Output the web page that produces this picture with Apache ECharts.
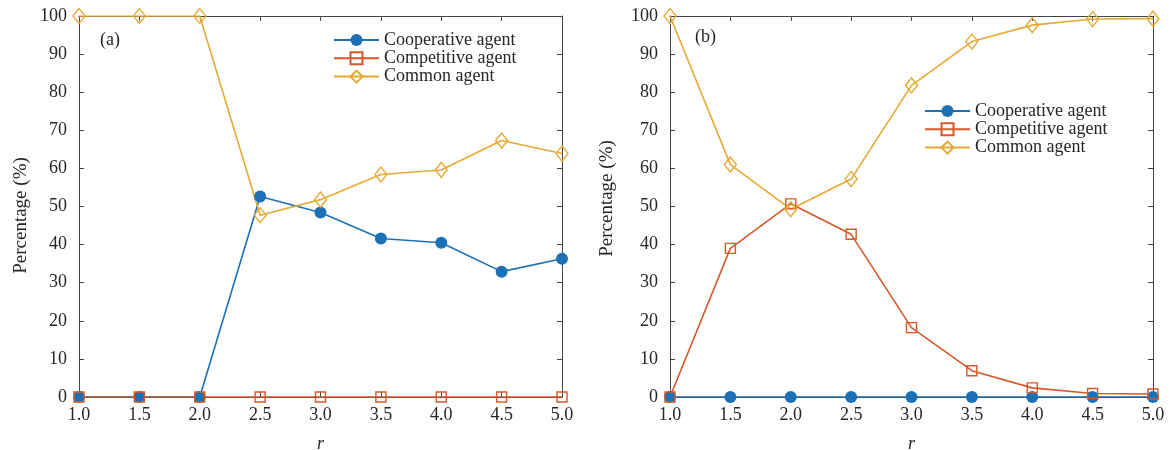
<!DOCTYPE html>
<html><head><meta charset="utf-8">
<script src="https://cdn.jsdelivr.net/npm/echarts@6/dist/echarts.min.js"></script>
<style>html,body{margin:0;padding:0;background:#fff}#c{width:1171px;height:450px}</style>
</head><body><div id="c"></div>
<script>
const r = [1.0, 1.5, 2.0, 2.5, 3.0, 3.5, 4.0, 4.5, 5.0];
const xTicks = ['1.0','1.5','2.0','2.5','3.0','3.5','4.0','4.5','5.0'];
const names = ['Cooperative agent', 'Competitive agent', 'Common agent'];
const coopA = [0, 0, 0, 52.6, 48.4, 41.6, 40.5, 32.9, 36.3];
const compA = [0, 0, 0, 0, 0, 0, 0, 0, 0];
const commA = [100, 100, 100, 47.7, 51.8, 58.4, 59.6, 67.3, 63.9];
const coopB = [0, 0, 0, 0, 0, 0, 0, 0, 0];
const compB = [0, 39.0, 50.7, 42.7, 18.2, 6.9, 2.4, 0.9, 0.8];
const commB = [100, 61.0, 49.3, 57.2, 81.8, 93.3, 97.6, 99.2, 99.3];

const FONT = '"Liberation Serif","Times New Roman",serif';
const TXT = '#262626';
const AX = '#444444';
const colors = ['#1B70B6', '#D7582A', '#E6A935'];
const pairs = v => v.map((y, i) => [r[i], y]);

function xAxes(gi) {
  return [
    {gridIndex: gi, type: 'value', min: 1, max: 5, interval: 0.5, position: 'bottom',
     name: 'r', nameLocation: 'middle', nameGap: 38,
     nameTextStyle: {fontFamily: FONT, fontSize: 18, fontStyle: 'italic', color: TXT},
     axisLine: {show: true, onZero: false, lineStyle: {color: AX, width: 1}},
     axisTick: {show: true, inside: true, length: 5, lineStyle: {color: AX}},
     axisLabel: {fontFamily: FONT, fontSize: 18, color: TXT, margin: 9,
       formatter: v => xTicks[Math.round((v - 1) / 0.5)]},
     splitLine: {show: false}},
    {gridIndex: gi, type: 'value', min: 1, max: 5, interval: 0.5, position: 'top',
     axisLine: {show: true, onZero: false, lineStyle: {color: AX, width: 1}},
     axisTick: {show: true, inside: true, length: 5, lineStyle: {color: AX}},
     axisLabel: {show: false}, splitLine: {show: false}}
  ];
}
function yAxes(gi) {
  return [
    {gridIndex: gi, type: 'value', min: 0, max: 100, interval: 10, position: 'left',
     name: 'Percentage (%)', nameLocation: 'middle', nameGap: gi === 0 ? 48.5 : 53,
     nameTextStyle: {fontFamily: FONT, fontSize: 19, color: TXT,
       padding: gi === 0 ? [0, 18, 0, 0] : [0, 0, 0, 16]},
     axisLine: {show: true, onZero: false, lineStyle: {color: AX, width: 1}},
     axisTick: {show: true, inside: true, length: 5, lineStyle: {color: AX}},
     axisLabel: {fontFamily: FONT, fontSize: 18, color: TXT, margin: 12},
     splitLine: {show: false}},
    {gridIndex: gi, type: 'value', min: 0, max: 100, interval: 10, position: 'right',
     axisLine: {show: true, onZero: false, lineStyle: {color: AX, width: 1}},
     axisTick: {show: true, inside: true, length: 5, lineStyle: {color: AX}},
     axisLabel: {show: false}, splitLine: {show: false}}
  ];
}
function mk(name, data, gi, k) {
  const sym = ['circle', 'rect', 'diamond'][k];
  const size = [12, 10, [12, 15]][k];
  return {
    name, type: 'line', xAxisIndex: gi * 2, yAxisIndex: gi * 2, data: pairs(data),
    color: colors[k],
    symbol: sym, symbolSize: size, showAllSymbol: true,
    lineStyle: {color: colors[k], width: 1.6},
    itemStyle: k === 0 ? {color: colors[k]} :
      {color: 'rgba(255,255,255,0)', borderColor: colors[k], borderWidth: 1.4},
    animation: false
  };
}
const series = [
  mk(names[0], coopA, 0, 0), mk(names[1], compA, 0, 1), mk(names[2], commA, 0, 2),
  mk(names[0], coopB, 1, 0), mk(names[1], compB, 1, 1), mk(names[2], commB, 1, 2)
];

const legendCommon = {
  orient: 'vertical', itemWidth: 45, itemHeight: 15, itemGap: 0.3, padding: 0,
  textStyle: {fontFamily: FONT, fontSize: 18, color: TXT, lineHeight: 18},
  data: names, selectedMode: false
};
const chart = echarts.init(document.getElementById('c'), null, {renderer: 'canvas'});
chart.setOption({
  animation: false,
  backgroundColor: '#fff',
  grid: [
    {left: 79, right: 609, top: 16, bottom: 53, containLabel: false, outerBoundsMode: 'none'},
    {left: 670, right: 18, top: 16, bottom: 53, containLabel: false, outerBoundsMode: 'none'}
  ],
  xAxis: [...xAxes(0), ...xAxes(1)],
  yAxis: [...yAxes(0), ...yAxes(1)],
  legend: [
    Object.assign({left: 333, top: 31}, legendCommon),
    Object.assign({left: 924, top: 102}, legendCommon)
  ],
  graphic: [
    {type: 'text', left: 100, top: 31, style: {text: '(a)', font: '18px ' + FONT, fill: TXT}},
    {type: 'text', left: 695, top: 28, style: {text: '(b)', font: '18px ' + FONT, fill: TXT}}
  ],
  series
});
</script></body></html>
